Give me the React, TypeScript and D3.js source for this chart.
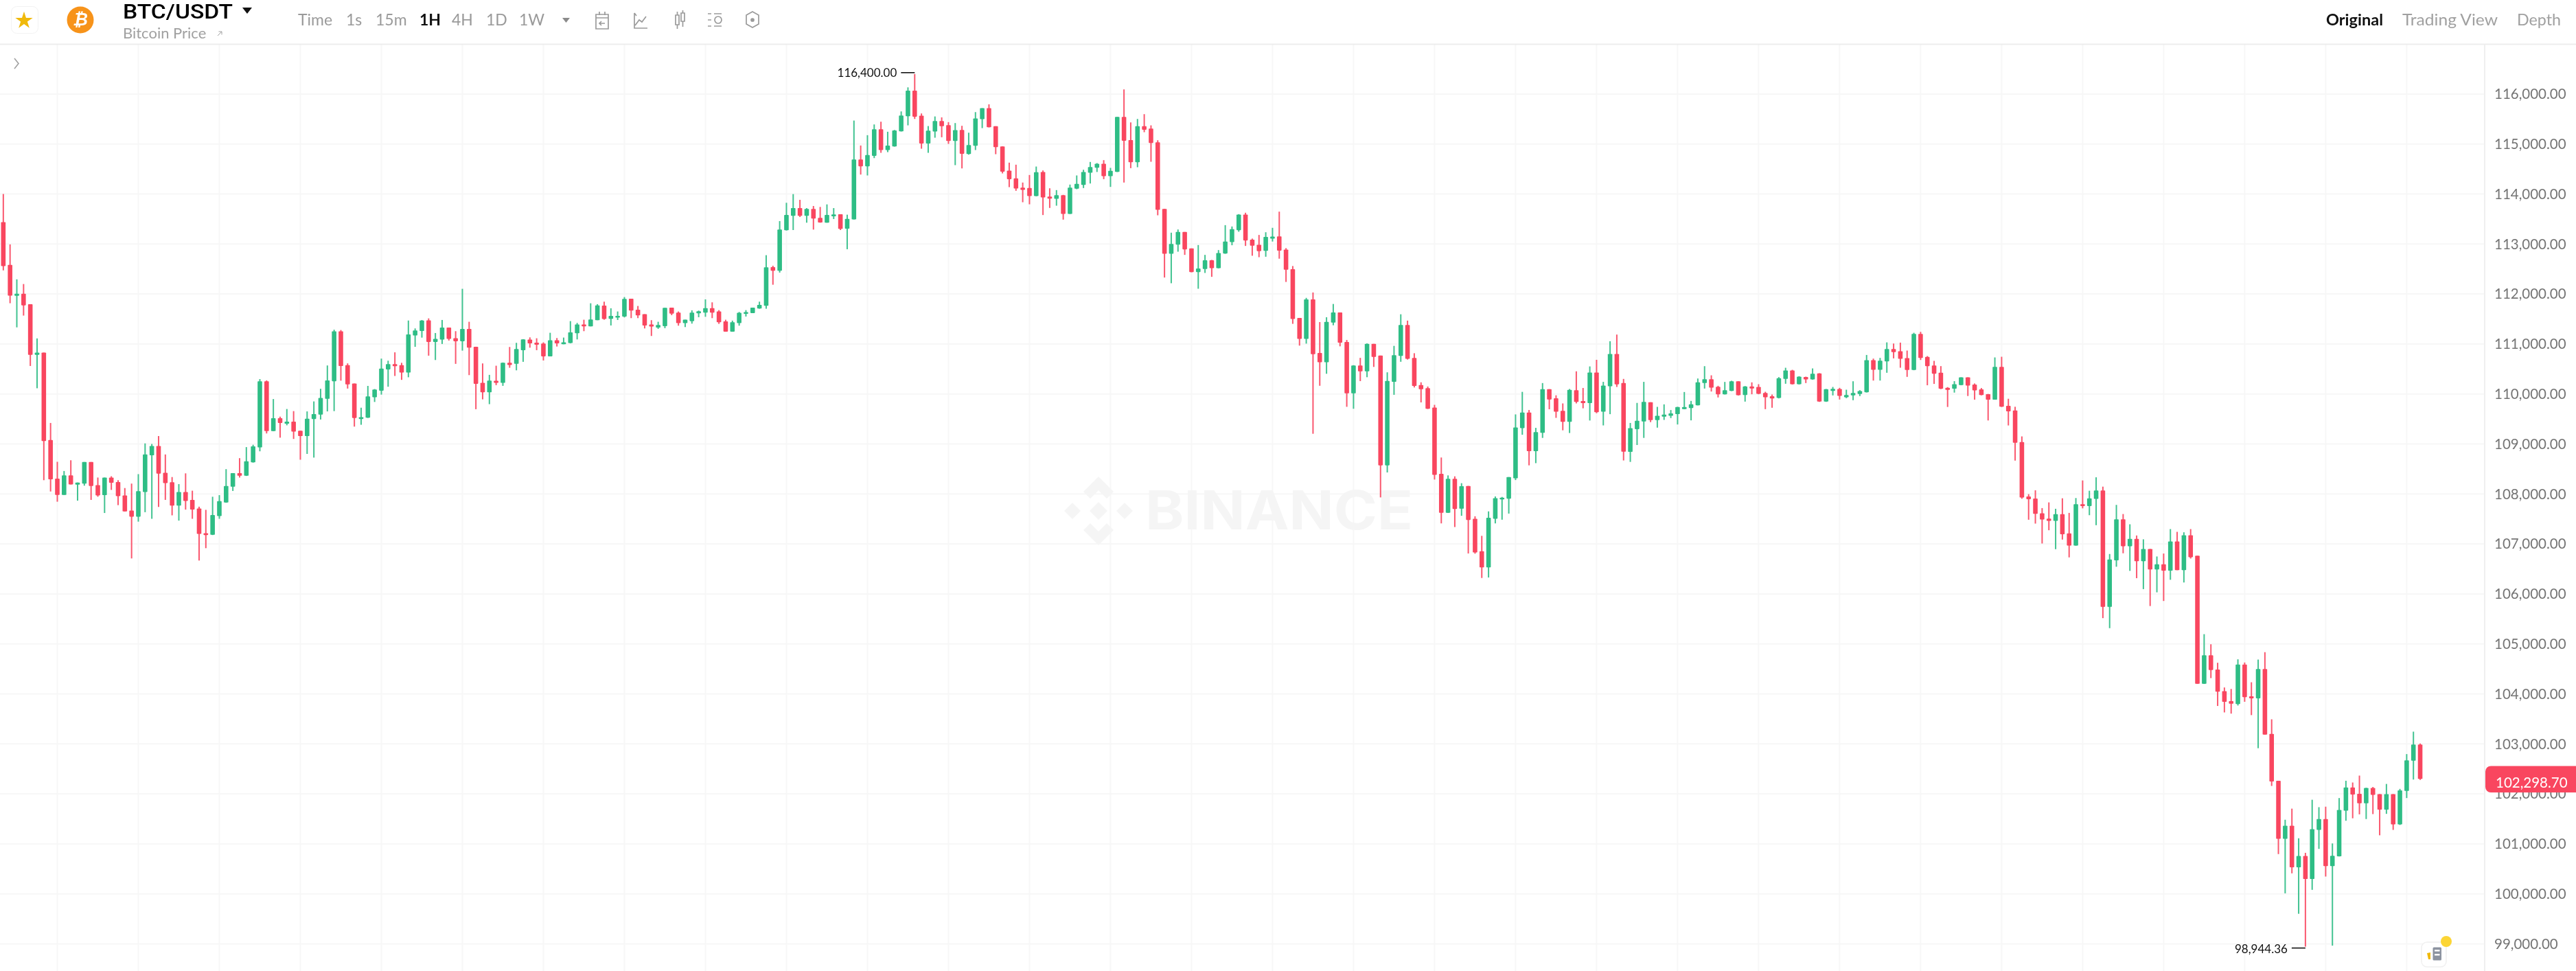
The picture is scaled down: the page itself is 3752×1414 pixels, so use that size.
import React from "react";
import * as d3 from "d3";

const highs = [114000,112992,112293,112199,111794,111111,110828,109420,108643,108459,
108674,108228,108638,108638,108328,108328,108354,108275,108118,108207,
108396,109011,109000,109158,108790,108338,108197,108412,108065,107745,
107682,107944,107976,108496,108417,108716,108937,108984,110297,110271,
109898,109546,109699,109657,109263,109651,109851,110103,110570,111285,
111279,110612,110208,109725,110161,110098,110707,110665,110833,110623,
111469,111311,111479,111512,111219,111480,111329,111256,112103,111444,
110945,110611,110382,110565,110629,110940,111023,111096,111132,111114,
111032,111224,111119,111128,111457,111421,111485,111814,111796,111846,
111714,111650,111938,111905,111760,111595,111476,111444,111723,111727,
111650,111485,111673,111668,111892,111833,111677,111485,111467,111640,
111677,111727,111846,112776,112565,113458,113824,113998,113883,113718,
113760,113741,113792,113718,113595,113586,115469,114970,115176,115391,
115446,115245,115281,115652,116133,116400,115611,115359,115551,115533,
115437,115419,115364,115226,115638,115716,115794,115355,114952,114627,
114586,114229,114380,114549,114471,114114,114078,113982,114188,114371,
114485,114641,114618,114677,114522,115542,116092,115432,115501,115597,
115373,115075,113702,113226,113290,113240,112911,112979,112782,112682,
112878,113377,113350,113597,113625,113108,113181,113235,113323,113647,
112917,112559,111521,111922,112030,111438,111535,111800,111629,111080,
110575,110722,111011,111002,110767,110433,110962,111594,111467,110815,
110233,110149,109782,108729,108371,108352,108215,108160,107553,107162,
107651,107950,107940,108337,109591,110042,109679,109322,110218,110095,
109973,109811,110100,110453,110120,110551,110683,110242,111055,111188,
110301,109420,109821,110242,109834,109742,109792,109678,109742,110039,
109861,110309,110556,110373,110163,110241,110264,110254,110158,110232,
110195,110044,109989,110337,110524,110483,110355,110346,110511,110415,
110099,110140,110122,110085,110254,110076,110780,110707,110721,111032,
111009,111027,110868,111224,111242,110758,110662,110557,110137,110256,
110333,110333,110210,110119,110000,110731,110744,109904,109744,109151,
107996,108073,107717,107831,107703,107913,107621,107918,108270,108064,
108333,108146,106799,107781,107598,107393,107169,107092,106900,106749,
106808,107297,107242,107233,107297,106763,105195,104993,104623,104129,
104099,104692,104628,104233,104687,104835,103492,102263,101483,101705,
101112,100821,101883,101734,101744,101009,101917,102263,102228,102366,
102124,102139,101996,102199,101996,102100,102796,103245,103008];

const lows = [112472,111815,111332,111568,110560,110114,108275,108049,107845,107981,
108191,107866,108165,107881,107944,107619,108081,107776,107650,106710,
107446,107635,107503,107740,107881,107572,107467,107687,107503,106668,
106915,107178,107503,107824,108060,108328,108360,108627,108853,109210,
109257,109126,109373,109100,108685,108801,108727,109489,109651,109657,
110266,110108,109347,109384,109520,109840,109987,110145,110360,110282,
110334,110943,111127,110766,110679,111000,111068,110602,110867,110377,
109695,109892,109796,110176,110162,110524,110473,110643,110926,110876,
110670,110753,110949,110995,111013,111091,111256,111352,111476,111485,
111370,111480,111531,111517,111517,111311,111160,111302,111316,111576,
111366,111338,111407,111535,111544,111517,111402,111245,111245,111366,
111549,111618,111705,111705,112185,112428,113270,113279,113540,113426,
113288,113426,113426,113499,113279,112895,113490,114389,114371,114718,
114824,114837,114948,115250,115373,115501,114906,114824,115126,115135,
115002,114577,114512,114787,114879,115318,115332,114796,114412,114137,
114064,113835,113794,113955,113579,113721,113766,113487,113600,114096,
114119,114210,114440,114297,114142,114440,114229,114517,114535,115236,
114645,113574,112329,112215,112846,112782,112435,112105,112421,112343,
112513,112805,112975,113245,112961,112765,112736,112745,113049,112706,
112241,111403,110967,111007,109204,110164,110404,111374,110953,109743,
109704,110257,110335,110541,107931,108430,109983,110644,110688,110130,
109831,109700,108288,107411,107620,107338,107563,106809,106805,106319,
106329,107411,107485,107607,108278,109184,108572,108616,109121,109694,
109522,109273,109219,109811,109713,109469,109615,109371,109596,110140,
108670,108641,108979,109121,109436,109326,109481,109518,109390,109694,
109472,109772,110108,110049,109930,109990,110058,109970,109847,109994,
109994,109696,109724,109911,110204,110190,110190,110218,110286,109842,
109842,109971,109889,109916,109875,109957,110030,110268,110268,110424,
110712,110525,110342,110475,110680,110174,110201,110096,109740,110027,
110174,109959,109886,109973,109470,109886,109740,109370,108667,107904,
107484,107407,107009,107274,106895,107087,106731,106965,107712,107575,
107375,105516,105315,106544,106813,106461,106315,106096,105758,106032,
105859,106283,106475,106229,106708,104203,104200,104316,103759,103630,
103606,103768,103843,103576,102914,103186,102159,100796,100011,100411,
99602,98944.36,100081,100900,100347,98965,100748,101463,101512,101591,
101497,101596,101172,101601,101280,101379,101917,102287,102280];

const opens = [113438,112582,111962,112004,111794,110781,110828,109079,108307,107981,
108370,108186,108207,108638,108176,107976,108328,108239,107971,107666,
107545,108039,108774,108958,108422,108233,107766,108039,107881,107708,
107214,107183,107556,107829,108144,108417,108365,108632,108932,110255,
109257,109515,109404,109447,109263,109158,109499,109588,109903,110255,
111253,110576,110208,109499,109525,109935,110066,110492,110597,110576,
110429,111169,111258,111471,111041,111087,111329,111114,111055,111302,
110945,110222,110034,110263,110222,110625,110602,110876,111087,111027,
111009,110753,111073,110995,111018,111215,111389,111352,111476,111769,
111503,111526,111549,111905,111686,111595,111389,111329,111357,111727,
111627,111416,111457,111613,111627,111718,111650,111453,111247,111416,
111604,111618,111709,111764,112538,112464,113274,113563,113718,113563,
113700,113522,113426,113554,113595,113307,113492,114691,114554,114764,
115295,114879,114952,115254,115556,116069,115565,115011,115249,115460,
115378,115062,115281,114801,114966,115497,115716,115355,114952,114467,
114311,114128,114119,113959,114440,113950,113904,113977,113602,114105,
114183,114426,114526,114604,114357,114444,115542,115080,114636,115355,
115309,115034,113702,112805,112988,113240,112911,112439,112499,112673,
112517,112810,113039,113277,113588,113088,112985,112863,113108,113152,
112887,112496,111521,111100,111893,110820,110634,111428,111629,111041,
110012,110570,110453,111002,110767,108572,110242,110762,111379,110722,
110179,110115,109728,108401,107622,108303,107705,108160,107504,106853,
106530,107504,107891,107906,108313,109317,109630,108856,109224,110095,
109914,109664,109444,110076,109860,109816,110429,109645,110154,110801,
110218,108842,109297,109449,109834,109477,109545,109564,109596,109696,
109719,109774,110218,110296,110145,109994,110062,110254,109980,110149,
110140,110021,109953,109921,110300,110469,110195,110341,110291,110410,
109847,110062,110099,109934,109971,109998,110035,110675,110483,110652,
110900,110854,110717,110479,111201,110740,110571,110425,110123,110105,
110178,110333,110187,110091,109995,109886,110543,109763,109671,109037,
107950,107909,107612,107507,107461,107594,107210,106968,107795,107758,
107900,108069,105740,106671,107493,106955,107101,106653,106900,106489,
106594,106466,107050,106475,107174,106763,104203,104771,104489,104055,
103857,103798,104588,103951,103912,104499,103201,102263,101102,101364,
100530,100757,100298,101280,101497,100554,100752,101665,102129,102001,
101813,102119,101996,101685,101996,101389,102060,102663,102988];

const closes = [112556,111967,112004,111773,110781,110828,109058,108291,107981,108370,
108191,108228,108638,108160,107971,108328,108223,107955,107650,107545,
108055,108790,108958,108407,108218,107766,108039,107860,107687,107199,
107178,107577,107855,108160,108417,108365,108653,108953,110255,109257,
109515,109420,109447,109247,109158,109504,109599,109919,110271,111253,
110560,110192,109520,109536,109951,110087,110507,110597,110555,110429,
111190,111269,111470,111041,111100,111329,111100,111055,111302,110926,
110203,110034,110267,110222,110625,110579,110899,111092,111013,110986,
110753,111073,111013,111032,111233,111389,111352,111489,111773,111499,
111563,111563,111901,111668,111572,111370,111348,111380,111723,111608,
111416,111485,111627,111654,111718,111627,111435,111247,111435,111622,
111636,111727,111782,112533,112464,113288,113581,113718,113563,113700,
113508,113430,113581,113590,113302,113503,114691,114554,114778,115295,
114879,114970,115272,115570,116069,115547,115011,115268,115460,115355,
115062,115277,114805,114979,115510,115716,115336,114938,114448,114297,
114110,114082,113959,114435,113931,113908,113977,113602,114128,114201,
114440,114540,114604,114357,114462,115542,115066,114636,115355,115286,
115021,113684,112805,113002,113240,112892,112439,112508,112673,112517,
112819,113048,113295,113588,113071,112966,112858,113142,113147,112868,
112486,111501,111100,111893,110796,110634,111442,111629,111026,110012,
110570,110453,111002,110742,108572,110262,110776,111379,110703,110159,
110095,109704,108381,107622,108303,107700,108156,107480,106829,106530,
107524,107916,107926,108337,109331,109630,108856,109238,110095,109890,
109645,109444,110081,109841,109816,110429,109635,110169,110801,110193,
108846,109317,109464,109841,109477,109564,109587,109610,109738,109738,
109792,110232,110296,110126,109994,110076,110254,109975,110149,110108,
110003,109934,109911,110314,110469,110195,110346,110291,110405,109847,
110094,110103,109962,109980,110021,110058,110675,110483,110666,110899,
110836,110703,110479,111201,110721,110557,110406,110105,110082,110196,
110333,110169,110073,109977,109886,110543,109744,109653,109023,107927,
107895,107603,107489,107461,107594,107192,106968,107795,107758,107913,
108069,105740,106690,107493,106955,107101,106653,106900,106489,106594,
106466,107050,106475,107174,106735,104203,104771,104479,104045,103843,
103803,104588,103936,103912,104499,103186,102248,101102,101364,100530,
100757,100298,101295,101497,100554,100762,101680,102129,101986,101813,
102119,101981,101685,101996,101389,102070,102672,102988,102298.7];

const priceTicks = [99000,100000,101000,102000,103000,104000,105000,106000,107000,108000,109000,110000,111000,112000,113000,114000,115000,116000];
const intervals = ["Time","1s","15m","1H","4H","1D","1W"];
const intervalX = [434,504,547,611,658,708,756];
const viewTabs = ["Original","Trading View","Depth"];
const viewTabX = [3388,3499,3666];
const viewTabW = [83,139,64];
const lastPrice = 102298.7;
const maxPrice = 116400;
const minPrice = 98944.36;

const W = 3752, H = 1414, AXIS_X = 3619, HEAD = 65;
const RED = "#F9465F", GREEN = "#2EBD85", GRID = "#F7F7F7";
const FONT = "Lato, Roboto, sans-serif";
const fmt = d3.format(",.2f");

export default function App() {
  const x = d3.scaleLinear().domain([0, 358]).range([4.83, 4.83 + 358 * 9.833]);
  const y = d3.scaleLinear().domain([116000, 99000]).range([136.9, 1374.5]);
  const gridIdx = d3.range(8, 358, 12);
  const maxI = highs.indexOf(maxPrice);
  const minI = lows.indexOf(minPrice);
  const iconC = "#9A9A9A";
  return (
    <svg width={W} height={H} viewBox={`0 0 ${W} ${H}`} style={{ position: "fixed", left: 0, top: 0, background: "#fff", opacity: 0.999, filter: "blur(0.45px)" }} fontFamily={FONT}>
      <rect x={0} y={0} width={W} height={H} fill="#fff" />
      {/* grid */}
      {priceTicks.map((t) => (
        <line key={t} x1={0} x2={AXIS_X} y1={y(t)} y2={y(t)} stroke={GRID} strokeWidth={2} />
      ))}
      {gridIdx.map((i) => (
        <line key={i} x1={x(i)} x2={x(i)} y1={HEAD} y2={H} stroke={GRID} strokeWidth={2} />
      ))}
      {/* watermark */}
      <g fill="#F5F5F5">
        <g transform="translate(1600,744)">
          <path d="M0,-50 L22,-28 L12,-18 L0,-30 L-12,-18 L-22,-28 Z" />
          <path d="M0,50 L22,28 L12,18 L0,30 L-12,18 L-22,28 Z" />
          <path d="M-50,0 L-38,-12 L-26,0 L-38,12 Z" />
          <path d="M50,0 L38,-12 L26,0 L38,12 Z" />
          <path d="M0,-13 L13,0 L0,13 L-13,0 Z" />
        </g>
        <text x={1668} y={771} fontSize={78} fontWeight={700} fontFamily="Inter, sans-serif" textLength={390} lengthAdjust="spacingAndGlyphs">BINANCE</text>
      </g>
      {/* candles */}
      {opens.map((o, i) => {
        const c = closes[i];
        const col = c >= o ? GREEN : RED;
        const top = y(Math.max(o, c));
        const bot = y(Math.min(o, c));
        return (
          <g key={i} fill={col}>
            <rect x={x(i) - 1} width={2} y={y(highs[i])} height={y(lows[i]) - y(highs[i])} opacity={0.9} />
            <rect x={x(i) - 3.3} width={6.6} y={top} height={Math.max(bot - top, 2)} rx={0.8} />
          </g>
        );
      })}
      {/* extreme markers */}
      <line x1={x(maxI) - 20} x2={x(maxI)} y1={y(maxPrice) - 2} y2={y(maxPrice) - 2} stroke="#111" strokeWidth={1.6} />
      <text x={x(maxI) - 26} y={y(maxPrice) - 2} dy="0.35em" textAnchor="end" fontSize={17} fill="#111">{fmt(maxPrice)}</text>
      <line x1={x(minI) - 20} x2={x(minI)} y1={y(minPrice) + 2} y2={y(minPrice) + 2} stroke="#111" strokeWidth={1.6} />
      <text x={x(minI) - 26} y={y(minPrice) + 3} dy="0.35em" textAnchor="end" fontSize={17} fill="#111">{fmt(minPrice)}</text>
      {/* axis */}
      <line x1={AXIS_X} x2={AXIS_X} y1={HEAD} y2={H} stroke="#EFEFEF" strokeWidth={2} />
      {priceTicks.map((t) => (
        <text key={t} x={3633} y={y(t)} dy="0.36em" fontSize={20.5} fill="#757575">{fmt(t)}</text>
      ))}
      <rect x={3620} y={1115.5} width={140} height={38.5} rx={8} fill={RED} />
      <text x={3635} y={1147} fontSize={20.5} fill="#fff">{fmt(lastPrice)}</text>
      {/* collapse arrow */}
      <path d="M21,85 L27,92.5 L21,100" fill="none" stroke="#A0A0A0" strokeWidth={1.6} />
      {/* news widget */}
      <rect x={3527} y={1372} width={36} height={36} rx={8} fill="#fff" stroke="#F0F0F0" strokeWidth={1.5} />
      <rect x={3543.5} y={1379.5} width={12.5} height={19} rx={1.5} fill="#8C93A0" />
      <rect x={3546} y={1383} width={7.5} height={2.5} fill="#fff" />
      <rect x={3546} y={1389} width={7.5} height={2.5} fill="#fff" />
      <path d="M3535,1388 L3540,1387 L3540,1397 L3537,1397 Z" fill="#F0B90B" />
      <circle cx={3563} cy={1371} r={8} fill="#FCD535" />
      {/* header */}
      <rect x={0} y={63.5} width={W} height={2} fill="#EDEDED" />
      <rect x={16.5} y={9.5} width={39} height={39} rx={8} fill="#fff" stroke="#F2F2F2" strokeWidth={1} />
      <path transform="translate(35,30)" d={d3.symbol(d3.symbolStar, 200)() as string} fill="#F0B90B" />
      <circle cx={117} cy={29} r={19.5} fill="#F7931A" />
      <text x={117} y={37} textAnchor="middle" fontSize={25} fontWeight={800} fontStyle="italic" fill="#fff">₿</text>
      <text x={179} y={27} fontSize={29} fontWeight={500} fill="#000" fontFamily="Roboto, sans-serif" textLength={160} lengthAdjust="spacingAndGlyphs">BTC/USDT</text>
      <path d="M353,11 L367,11 L360,20 Z" fill="#111" />
      <text x={179} y={56} fontSize={22} fill="#A0A0A0">Bitcoin Price</text>
      <path d="M317,52 L323,46 M318.5,46 L323,46 L323,50.5" fill="none" stroke="#A0A0A0" strokeWidth={1} />
      {intervals.map((t, i) => (
        <text key={t} x={intervalX[i]} y={37} fontSize={23} fontWeight={t === "1H" ? 700 : 400} fill={t === "1H" ? "#111" : "#9A9A9A"}>{t}</text>
      ))}
      <path d="M819,26 L830,26 L824.5,33 Z" fill="#8A8A8A" />
      {/* toolbar icons */}
      <g fill="none" stroke={iconC} strokeWidth={1.7}>
        <path d="M868,21 h18 v21 h-18 z M868,26 h18 M873,17 v5 M881,17 v5 M881,34 h-8 M876,31 l-3,3 l3,3" />
        <path d="M924,19 v22 h19 M925,37 l6,-8 l4,3 l6,-8 M924,19 l3,4" />
        <path d="M984,21 h5 v14 h-5 z M986.5,16 v5 M986.5,35 v6 M992,18 h5 v12 h-5 z M994.5,14 v4 M994.5,30 v8" transform="translate(0,1)" />
        <path d="M1031,20 h5 M1040,20 h11 M1031,29 h5 M1031,38 h5 M1040,38 h11" />
        <circle cx={1046} cy={29} r={5} />
        <path d="M1096,17 l9,5 v13 l-9,5 l-9,-5 v-13 z" />
        <circle cx={1096} cy={29} r={2} fill={iconC} />
      </g>
      {viewTabs.map((t, i) => (
        <text key={t} x={viewTabX[i]} y={37} fontSize={23.5} fontWeight={i === 0 ? 700 : 400} fill={i === 0 ? "#111" : "#A0A0A0"} textLength={viewTabW[i]} lengthAdjust="spacingAndGlyphs">{t}</text>
      ))}
    </svg>
  );
}
